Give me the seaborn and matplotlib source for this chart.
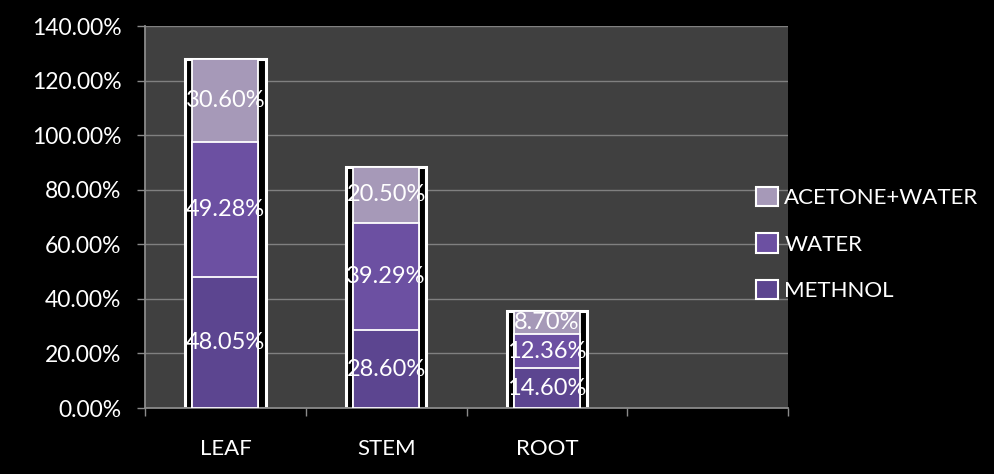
import matplotlib
matplotlib.use("Agg")
import matplotlib.pyplot as plt
from matplotlib.patches import Patch
from matplotlib.ticker import FixedLocator, FuncFormatter
import seaborn as sns
import pandas as pd

categories = ["LEAF", "STEM", "ROOT"]
methnol = [48.05, 28.60, 14.60]
water = [49.28, 39.29, 12.36]
acetone_water = [30.60, 20.50, 8.70]
series_names = ["METHNOL", "WATER", "ACETONE+WATER"]
y_ticks = [0, 20, 40, 60, 80, 100, 120, 140]

colors = {"METHNOL": "#5C4590", "WATER": "#6C50A2", "ACETONE+WATER": "#A699B8"}

sns.set_style("dark")
plt.rcParams['font.family'] = ['Lato', 'DejaVu Sans']

fig = plt.figure(figsize=(9.94, 4.74), dpi=100, facecolor='black')
ax = fig.add_axes([0.1459, 0.1392, 0.6469, 0.8058])
ax.set_facecolor('#404040')

df = pd.DataFrame({"cat": categories, "METHNOL": methnol, "WATER": water,
                   "ACETONE+WATER": acetone_water})
df["c1"] = df["METHNOL"]
df["c2"] = df["c1"] + df["WATER"]
df["c3"] = df["c2"] + df["ACETONE+WATER"]

# outer frame of each stacked bar
sns.barplot(data=df, x="cat", y="c3", order=categories, color="black", width=0.5,
            edgecolor="white", linewidth=2.2, saturation=1, errorbar=None, ax=ax, zorder=2)
# inner stacked segments (drawn tallest first)
for col, name in [("c3", "ACETONE+WATER"), ("c2", "WATER"), ("c1", "METHNOL")]:
    sns.barplot(data=df, x="cat", y=col, order=categories, color=colors[name], width=0.41,
                edgecolor="white", linewidth=1.3, saturation=1, errorbar=None, ax=ax, zorder=3)

# data labels
for i in range(len(categories)):
    bottom = 0.0
    for name in series_names:
        v = df[name].iloc[i]
        ax.text(i, bottom + v / 2, f"{v:.2f}%", ha="center", va="center",
                color="white", fontsize=17, zorder=5)
        bottom += v

ax.set_xlim(-0.5, 3.5)
ax.set_ylim(0, 140)
ax.set_yticks(y_ticks)
ax.yaxis.set_major_formatter(FuncFormatter(lambda v, p: f"{v:.2f}%"))
ax.set_xticks(range(len(categories)))
ax.set_xticklabels(categories)
ax.xaxis.set_minor_locator(FixedLocator([-0.5, 0.5, 1.5, 2.5, 3.5]))
ax.tick_params(axis="x", which="major", length=0, pad=22, labelsize=16, labelcolor="white")
ax.tick_params(axis="x", which="minor", length=6, width=1, color="#8a8a8a", direction="out", bottom=True)
ax.tick_params(axis="y", which="major", length=6, width=1, color="#8a8a8a", direction="out",
               pad=11, labelsize=16.5, labelcolor="white", left=True)
ax.set_xlabel("")
ax.set_ylabel("")

ax.yaxis.grid(True, color="#808080", linewidth=1)
ax.xaxis.grid(False)
ax.set_axisbelow(True)
for s in ["top", "right"]:
    ax.spines[s].set_visible(False)
for s in ["left", "bottom"]:
    ax.spines[s].set_visible(True)
    ax.spines[s].set_color("#8a8a8a")
    ax.spines[s].set_linewidth(1.3)

handles = [Patch(facecolor=colors[n], edgecolor="white", linewidth=1.5, label=n)
           for n in reversed(series_names)]
fig.legend(handles=handles, loc="center left", bbox_to_anchor=(0.761, 0.485),
           frameon=False, labelcolor="white", fontsize=16, handlelength=0.95,
           handleheight=0.95, handletextpad=0.3, labelspacing=1.15,
           borderpad=0, borderaxespad=0)

fig.savefig("out.png", dpi=100, facecolor="black")
